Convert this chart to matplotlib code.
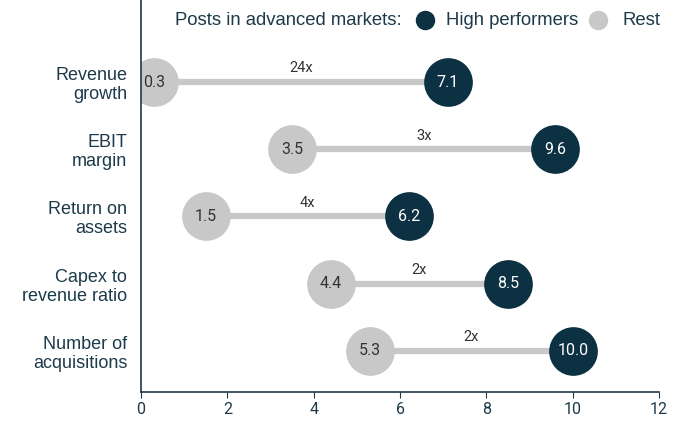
import matplotlib.pyplot as plt
from matplotlib.lines import Line2D

categories = ['Revenue\ngrowth', 'EBIT\nmargin', 'Return on\nassets',
              'Capex to\nrevenue ratio', 'Number of\nacquisitions']
rest = [0.3, 3.5, 1.5, 4.4, 5.3]
high = [7.1, 9.6, 6.2, 8.5, 10.0]
multiples = ['24x', '3x', '4x', '2x', '2x']

dark = '#0b3142'
grey = '#c8c8c9'
txt = '#1d3a4a'
sans = ['Liberation Sans', 'DejaVu Sans']

plt.rcParams['font.family'] = ['Roboto', 'DejaVu Sans']

fig = plt.figure(figsize=(6.88, 4.21), dpi=100)
ax = fig.add_axes([0.205, 0.069, 0.753, 0.931])

ys = list(range(len(categories)))
for y, r, h, m in zip(ys, rest, high, multiples):
    ax.plot([r, h], [y, y], color=grey, lw=4.5, solid_capstyle='butt', zorder=1)
    ax.text((r + h) / 2, y - 0.1, m, ha='center', va='bottom', fontsize=10.5, color='#333333')

ax.scatter(rest, ys, s=1230, color=grey, zorder=2, linewidths=0)
ax.scatter(high, ys, s=1230, color=dark, zorder=2, linewidths=0)
for y, r, h in zip(ys, rest, high):
    ax.text(r, y, f'{r:.1f}', ha='center', va='center', fontsize=11.5, color='#333333', zorder=3)
    ax.text(h, y, f'{h:.1f}', ha='center', va='center', fontsize=11.5, color='white', zorder=3)

ax.set_xlim(0, 12)
ax.set_ylim(4.61, -1.22)
ax.set_xticks(range(0, 13, 2))
ax.set_yticks(ys)
ax.set_yticklabels(categories, fontsize=13, color=txt, linespacing=1.15, family=sans)
ax.tick_params(axis='y', length=0, pad=10)
ax.tick_params(axis='x', direction='out', length=4, color=txt, labelsize=11.5, labelcolor=txt)
for s in ['top', 'right']:
    ax.spines[s].set_visible(False)
for s in ['left', 'bottom']:
    ax.spines[s].set_color(txt)
    ax.spines[s].set_linewidth(1.2)

# legend row at top
fig.text(0.254, 0.952, 'Posts in advanced markets:', fontsize=13.3, color=txt, va='center', family=sans)
fig.add_artist(Line2D([0.618], [0.952], marker='o', markersize=13, color=dark, transform=fig.transFigure))
fig.text(0.648, 0.952, 'High performers', fontsize=13.3, color=txt, va='center', family=sans)
fig.add_artist(Line2D([0.869], [0.952], marker='o', markersize=13, color=grey, transform=fig.transFigure))
fig.text(0.905, 0.952, 'Rest', fontsize=13.3, color=txt, va='center', family=sans)

plt.savefig('out.png', dpi=100)
